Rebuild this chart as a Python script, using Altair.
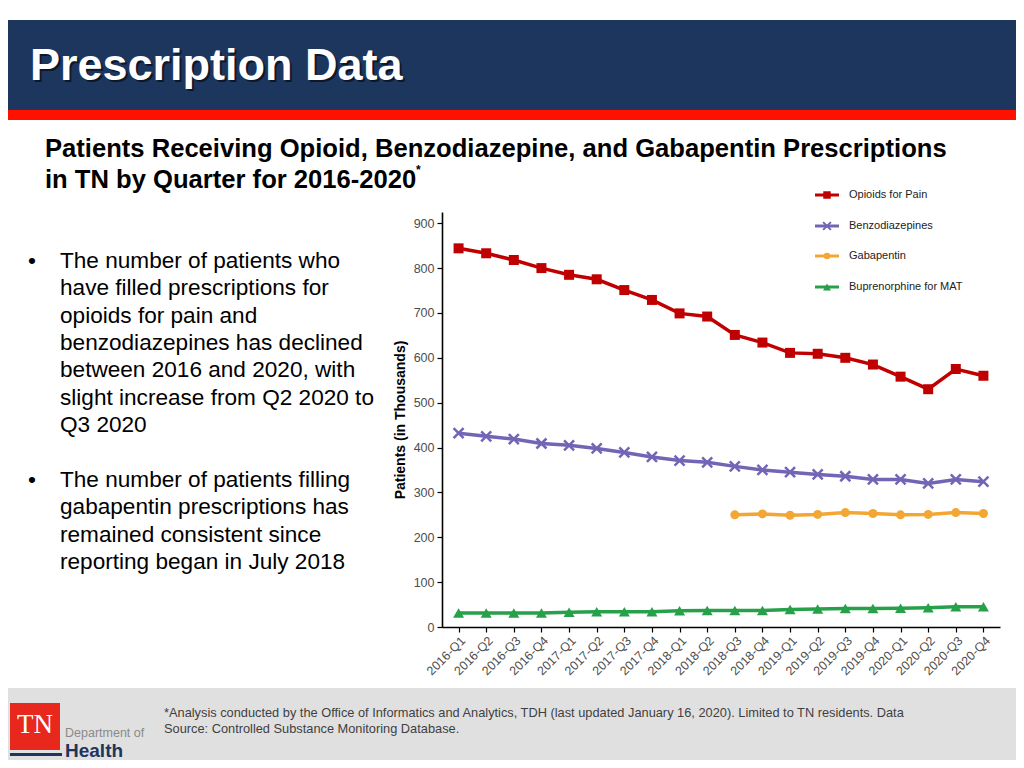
import altair as alt
import pandas as pd

# ---------------- data ----------------
quarters = ["2016-Q1", "2016-Q2", "2016-Q3", "2016-Q4",
            "2017-Q1", "2017-Q2", "2017-Q3", "2017-Q4",
            "2018-Q1", "2018-Q2", "2018-Q3", "2018-Q4",
            "2019-Q1", "2019-Q2", "2019-Q3", "2019-Q4",
            "2020-Q1", "2020-Q2", "2020-Q3", "2020-Q4"]
opioids = [844, 833, 818, 800, 785, 775, 751, 729, 699, 692,
           651, 634, 611, 609, 600, 585, 558, 530, 575, 560]
benzos = [432, 425, 419, 409, 405, 398, 389, 379, 371, 367,
          358, 350, 345, 340, 336, 329, 329, 320, 329, 324]
gaba_quarters = quarters[10:]
gabapentin = [250, 252, 249, 251, 255, 253, 250, 251, 255, 253]
bupe = [31, 31, 31, 31, 33, 34, 34, 34, 36, 37,
        37, 37, 39, 40, 41, 41, 42, 43, 45, 45]

series_names = ["Opioids for Pain", "Benzodiazepines", "Gabapentin", "Buprenorphine for MAT"]
series_colors = ["#C00000", "#7265B5", "#F3A633", "#27A04A"]
y_ticks = [0, 100, 200, 300, 400, 500, 600, 700, 800, 900]

slide_title = "Prescription Data"
subtitle_lines = ["Patients Receiving Opioid, Benzodiazepine, and Gabapentin Prescriptions",
                  "in TN by Quarter for 2016-2020"]
bullet1 = ["The number of patients who", "have filled prescriptions for", "opioids for pain and",
           "benzodiazepines has declined", "between 2016 and 2020, with",
           "slight increase from Q2 2020 to", "Q3 2020"]
bullet2 = ["The number of patients filling", "gabapentin prescriptions has",
           "remained consistent since", "reporting began in July 2018"]
footnote = ["*Analysis conducted by the Office of Informatics and Analytics, TDH (last updated January 16, 2020). Limited to TN residents. Data",
            "Source: Controlled Substance Monitoring Database."]

# ---------------- layout ----------------
FONT = "Liberation Sans"
OX, OY = 442, 212           # page position of plot origin
PW, PH = 558, 415           # plot area
TOTAL_W, TOTAL_H = 1008, 752
PAD_L, PAD_T = OX - 8, OY - 8
PAD_R = TOTAL_W - PAD_L - PW
PAD_B = TOTAL_H - PAD_T - PH

NAVY = "#1C365E"


def px(X):
    return X - OX


def py(Y):
    return Y - OY


one = alt.Data(values=[{"k": 1}])


def rect(x1, y1, x2, y2, color):
    return alt.Chart(one).mark_rect(color=color).encode(
        x=alt.value(px(x1)), x2=alt.value(px(x2)),
        y=alt.value(py(y1)), y2=alt.value(py(y2)))


def text(X, Y, s, size, color="black", weight="normal", font=FONT, align="left", baseline="alphabetic", opacity=1):
    return alt.Chart(one).mark_text(
        align=align, baseline=baseline, font=font, fontSize=size,
        fontWeight=weight, color=color, opacity=opacity).encode(
        x=alt.value(px(X)), y=alt.value(py(Y)), text=alt.value(s))


deco = []
# header
deco.append(rect(-10, 20, 1040, 110, NAVY))
deco.append(rect(-10, 110, 1040, 120, "#FF1100"))
deco.append(text(32, 82, slide_title, 45, "#000000", "bold", opacity=0.55))
deco.append(text(30, 80, slide_title, 45, "white", "bold"))
# subtitle
for i, line in enumerate(subtitle_lines):
    deco.append(text(45, 157 + i * 31, line, 25.6, "black", "bold"))
deco.append(text(416, 174, "*", 12, "black", "bold"))
# bullets
LH = 27.3
for start, lines in ((268, bullet1), (487, bullet2)):
    deco.append(text(28, start, "•", 22.6, "black"))
    for i, line in enumerate(lines):
        deco.append(text(60, start + i * LH, line, 22.6, "black"))
# footer
deco.append(rect(-10, 688, 1040, 780, "#E0E0E0"))
deco.append(rect(10, 703, 60, 750, "#E8281C"))
deco.append(rect(10, 753, 62, 756, NAVY))
deco.append(text(35, 733, "TN", 27, "white", "normal", font="Liberation Serif", align="center"))
deco.append(text(65, 737, "Department of", 12.5, "#8A8A8A"))
deco.append(text(65, 757, "Health", 19, NAVY, "bold"))
for i, line in enumerate(footnote):
    deco.append(text(164, 717 + i * 16, line, 12.8, "#404040"))

# legend
x_scale = alt.Scale(type="point", domain=quarters, padding=0.6)
y_scale = alt.Scale(domain=[0, 925], nice=False, zero=True)

shapes = ["square", "M-1,-1L1,1M-1,1L1,-1", "circle", "triangle-up"]
filled = [True, False, True, True]
sizes = [100, 100, 81, 121]
leg_sizes = [56, 60, 42, 64]
leg_rows = [195, 226, 256, 287]

legend_layers = []
for i in range(4):
    Y = leg_rows[i]
    legend_layers.append(alt.Chart(one).mark_rule(color=series_colors[i], strokeWidth=3).encode(
        x=alt.value(px(815)), x2=alt.value(px(839)), y=alt.value(py(Y))))
    legend_layers.append(alt.Chart(one).mark_point(
        shape=shapes[i], filled=filled[i], color=series_colors[i], opacity=1,
        size=leg_sizes[i], strokeWidth=2).encode(
        x=alt.value(px(827)), y=alt.value(py(Y))))
    legend_layers.append(text(849, Y, series_names[i], 11, "#222222", baseline="middle"))

# data layers
frames = [
    pd.DataFrame({"quarter": quarters, "value": opioids}),
    pd.DataFrame({"quarter": quarters, "value": benzos}),
    pd.DataFrame({"quarter": gaba_quarters, "value": gabapentin}),
    pd.DataFrame({"quarter": quarters, "value": bupe}),
]

x_enc = alt.X("quarter:O", scale=x_scale, sort=quarters,
              axis=alt.Axis(title=None, labelAngle=-45, labelFontSize=12.5, labelColor="#4D4D4D",
                            labelFont=FONT, domainColor="#000000", domainWidth=1.6,
                            tickColor="#000000", tickSize=5, tickWidth=1.2, labelPadding=2,
                            grid=False))
y_enc = alt.Y("value:Q", scale=y_scale,
              axis=alt.Axis(title="Patients (in Thousands)", values=y_ticks, labelFontSize=12.5,
                            labelColor="#4D4D4D", labelFont=FONT, titleFont=FONT, titleFontSize=14,
                            titleFontWeight="bold", titleColor="#000000", titlePadding=6,
                            domainColor="#000000", domainWidth=1.6, tickColor="#000000",
                            tickSize=5, tickWidth=1.2, labelPadding=3, grid=False))

data_layers = []
for i, df in enumerate(frames):
    base = alt.Chart(df)
    data_layers.append(base.mark_line(color=series_colors[i], strokeWidth=3.5).encode(x=x_enc, y=y_enc))
    data_layers.append(base.mark_point(shape=shapes[i], filled=filled[i], color=series_colors[i],
                                       opacity=1, size=sizes[i], strokeWidth=2.5).encode(x=x_enc, y=y_enc))

chart = alt.layer(*deco, *legend_layers, *data_layers).properties(
    width=PW, height=PH,
    background="white",
    padding={"left": PAD_L, "top": PAD_T, "right": PAD_R, "bottom": PAD_B},
    autosize=alt.AutoSizeParams(type="none"),
).configure_view(strokeWidth=0, stroke="transparent")

chart.save("out.html", embed_options={"renderer": "svg", "actions": False})
